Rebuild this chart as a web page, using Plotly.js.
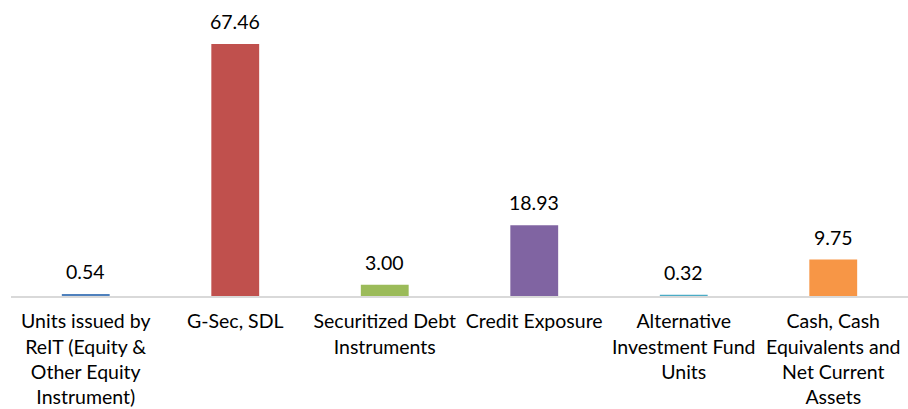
<!DOCTYPE html>
<html><head><meta charset="utf-8">
<script src="https://cdn.plot.ly/plotly-3.0.1.min.js"></script>
<style>html,body{margin:0;padding:0;background:#fff}#chart{width:908px;height:409px}</style>
</head><body><div id="chart"></div>
<script>
const categories = [
  "Units issued by<br>ReIT (Equity &<br>Other Equity<br>Instrument)",
  "G-Sec, SDL",
  "Securitized Debt<br>Instruments",
  "Credit Exposure",
  "Alternative<br>Investment Fund<br>Units",
  "Cash, Cash<br>Equivalents and<br>Net Current<br>Assets"
];
const values = [0.54, 67.46, 3.00, 18.93, 0.32, 9.75];
const colors = ["#4f81bd", "#c0504d", "#9bbb59", "#8064a2", "#4bacc6", "#f79646"];

const font = {family: "Lato, 'Open Sans', sans-serif", size: 19.5, color: "#000", weight: 400};

const trace = {
  type: "bar",
  x: categories,
  y: values,
  marker: {color: colors},
  hoverinfo: "none"
};

const annotations = categories.map((c, i) => ({
  x: c, y: values[i], xref: "x", yref: "y",
  text: values[i].toFixed(2), showarrow: false,
  yanchor: "bottom", yshift: 9, font: font
}));

const layout = {
  width: 908, height: 409,
  margin: {l: 11, r: 0, t: 0, b: 113},
  paper_bgcolor: "#fff", plot_bgcolor: "#fff",
  bargap: 0.68,
  showlegend: false,
  font: font,
  xaxis: {
    type: "category",
    showline: true, linecolor: "#d9d9d9", linewidth: 2,
    ticks: "", showgrid: false, zeroline: false,
    tickfont: font, ticklabelstandoff: 7
  },
  yaxis: {
    range: [0, 79.24], visible: false, showgrid: false, zeroline: false
  },
  annotations: annotations
};

Plotly.newPlot("chart", [trace], layout, {displayModeBar: false, staticPlot: true});
</script></body></html>
